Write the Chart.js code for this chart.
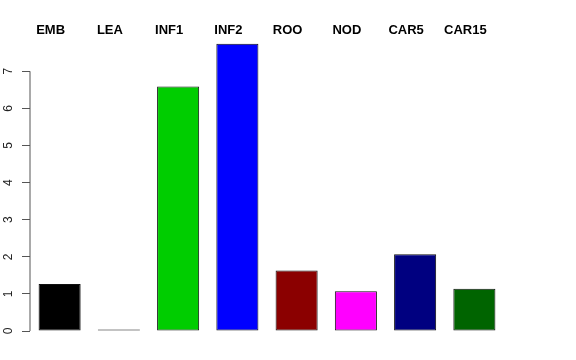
<!DOCTYPE html>
<html lang="en">

<head>
    <meta charset="UTF-8">
    <title>Barplot</title>
    <script src="https://cdn.jsdelivr.net/npm/chart.js@4"></script>
    <style>
        body { margin: 0; background: #fff; }
    </style>
</head>

<body>
    <div style="width:576px;height:360px;position:relative">
        <canvas id="canvas"></canvas>
    </div>
    <script>
        // data
        const categories = ['EMB', 'LEA', 'INF1', 'INF2', 'ROO', 'NOD', 'CAR5', 'CAR15'];
        const values = [1.27, 0.04, 6.59, 7.74, 1.63, 1.07, 2.07, 1.14];
        const barColors = ['#000000', '#ffffff', '#00cd00', '#0000ff', '#8b0000', '#ff00ff', '#000080', '#006400'];
        const yTicks = [0, 1, 2, 3, 4, 5, 6, 7];

        // R style axis line, only from first to last tick
        const axisLine = {
            id: 'axisLine',
            afterDraw(chart) {
                const y = chart.scales.y;
                const ctx = chart.ctx;
                const x = chart.chartArea.left;
                ctx.save();
                ctx.strokeStyle = '#555';
                ctx.lineWidth = 1;
                ctx.beginPath();
                ctx.moveTo(x, y.getPixelForValue(yTicks[0]));
                ctx.lineTo(x, y.getPixelForValue(yTicks[yTicks.length - 1]));
                ctx.stroke();
                ctx.restore();
            }
        };

        let ctx = document.getElementById('canvas').getContext('2d');
        let config = {
            type: 'bar',
            data: {
                labels: categories,
                datasets: [{
                    data: values,
                    backgroundColor: barColors,
                    borderColor: '#111',
                    borderWidth: 1,
                    borderSkipped: false,
                    barPercentage: 0.71,
                    categoryPercentage: 1
                }]
            },
            options: {
                responsive: true,
                maintainAspectRatio: false,
                animation: false,
                layout: { padding: { top: 20, right: 72, bottom: 29, left: 0 } },
                plugins: { legend: { display: false }, tooltip: { enabled: false } },
                scales: {
                    x: {
                        position: 'top',
                        grid: { display: false, drawTicks: false },
                        border: { display: false },
                        ticks: {
                            color: '#000',
                            padding: 3,
                            labelOffset: -9,
                            maxRotation: 0,
                            font: { family: 'Liberation Sans', size: 13, weight: 'bold' }
                        }
                    },
                    y: {
                        min: 0,
                        max: 7.8,
                        afterBuildTicks: scale => {
                            scale.ticks = yTicks.map(v => ({ value: v }));
                        },
                        afterFit: scale => { scale.width = 30; },
                        grid: { drawOnChartArea: false, tickLength: 8, color: '#555' },
                        border: { display: false },
                        ticks: {
                            color: '#222',
                            padding: 10,
                            minRotation: 90,
                            maxRotation: 90,
                            crossAlign: 'center',
                            font: { family: 'Liberation Sans', size: 12 }
                        }
                    }
                }
            },
            plugins: [axisLine]
        };

        let chart = new Chart(ctx, config);
    </script>
</body>

</html>
